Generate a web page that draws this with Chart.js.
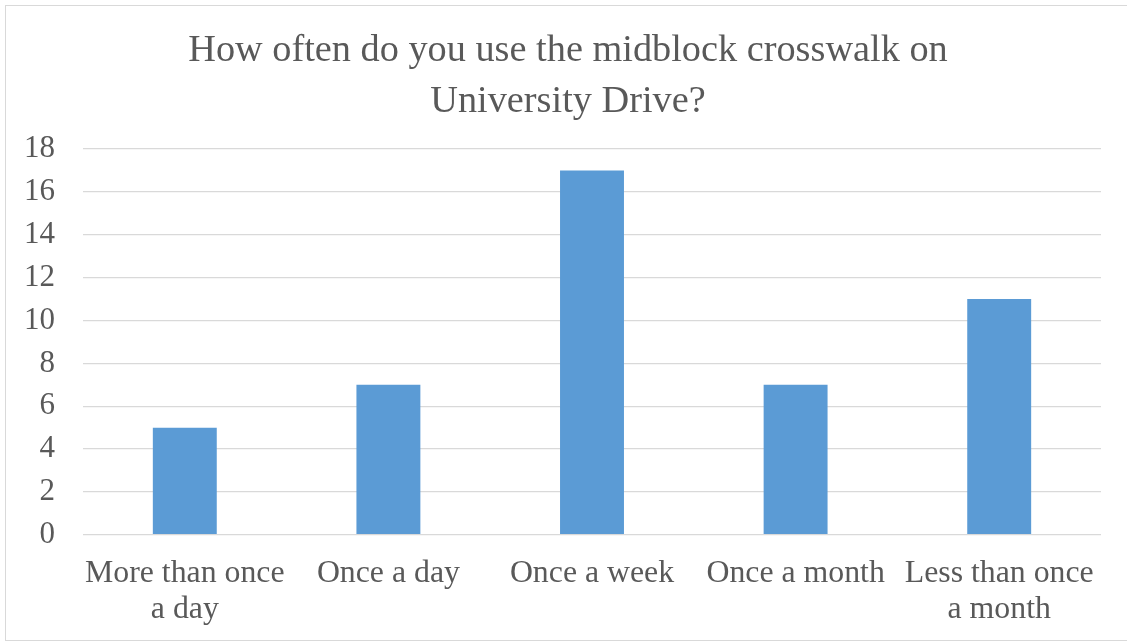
<!DOCTYPE html>
<html>
<head>
<meta charset="utf-8">
<script src="https://cdn.jsdelivr.net/npm/chart.js@4/dist/chart.umd.min.js"></script>
<style>
  html, body { margin: 0; padding: 0; background: #ffffff; }
  #wrap { position: relative; width: 1127px; height: 643px; overflow: hidden; }
  #frame { position: absolute; left: 5px; top: 5px; width: 1140px; height: 636px;
           border: 1px solid #d9d9d9; box-sizing: border-box; pointer-events: none; }
  canvas { position: absolute; left: 0; top: 0; }
</style>
</head>
<body>
<div id="wrap">
  <canvas id="chart" width="1127" height="643"></canvas>
  <div id="frame"></div>
</div>
<script>
// Survey answers: how often respondents use the crosswalk
const categories = [
  ["More than once", "a day"],
  "Once a day",
  "Once a week",
  "Once a month",
  ["Less than once", "a month"]
];
const responses = [5, 7, 17, 7, 11];
const yTicks = [0, 2, 4, 6, 8, 10, 12, 14, 16, 18];
const titleLines = ["How often do you use the midblock crosswalk on", "University Drive?"];

const textColor = "#595959";
const gridColor = "#d9d9d9";
const serif = "'Liberation Serif', 'Times New Roman', serif";

new Chart(document.getElementById("chart"), {
  type: "bar",
  data: {
    labels: categories,
    datasets: [{
      data: responses,
      backgroundColor: "#5b9bd5",
      borderWidth: 0,
      categoryPercentage: 1,
      barPercentage: 0.314
    }]
  },
  options: {
    responsive: false,
    animation: false,
    events: [],
    layout: { padding: { left: 24, right: 15, top: 0, bottom: 16 } },
    plugins: {
      legend: { display: false },
      tooltip: { enabled: false },
      title: {
        display: true,
        text: titleLines,
        color: textColor,
        font: { family: serif, size: 38.3, weight: "normal", lineHeight: 1.32 },
        padding: { top: 26, bottom: 22 }
      }
    },
    scales: {
      x: {
        // invisible tick marks give the gap between the axis and its labels
        grid: { display: true, drawOnChartArea: false, drawTicks: true,
                tickLength: 21, tickColor: "rgba(0,0,0,0)", color: "rgba(0,0,0,0)" },
        border: { display: false },
        ticks: {
          color: textColor,
          font: { family: serif, size: 31.8, lineHeight: 1.12 },
          padding: 0,
          maxRotation: 0,
          minRotation: 0,
          autoSkip: false
        },
        afterFit: (scale) => { scale.paddingLeft = 0; scale.paddingRight = 0; }
      },
      y: {
        min: 0,
        max: 18,
        afterBuildTicks: (axis) => { axis.ticks = yTicks.map(v => ({ value: v })); },
        grid: { color: gridColor, lineWidth: 1.3, drawTicks: false },
        border: { display: false },
        ticks: {
          color: textColor,
          font: { family: serif, size: 31 },
          padding: 28
        },
        afterFit: (scale) => { scale.width = 59; }
      },
      // blank right-hand margin strip, keeps the plot edge in place
      yRight: {
        position: "right",
        min: 0,
        max: 18,
        grid: { display: false },
        border: { display: false },
        ticks: { display: false },
        afterFit: (scale) => { scale.width = 11; }
      }
    }
  }
});
</script>
</body>
</html>
